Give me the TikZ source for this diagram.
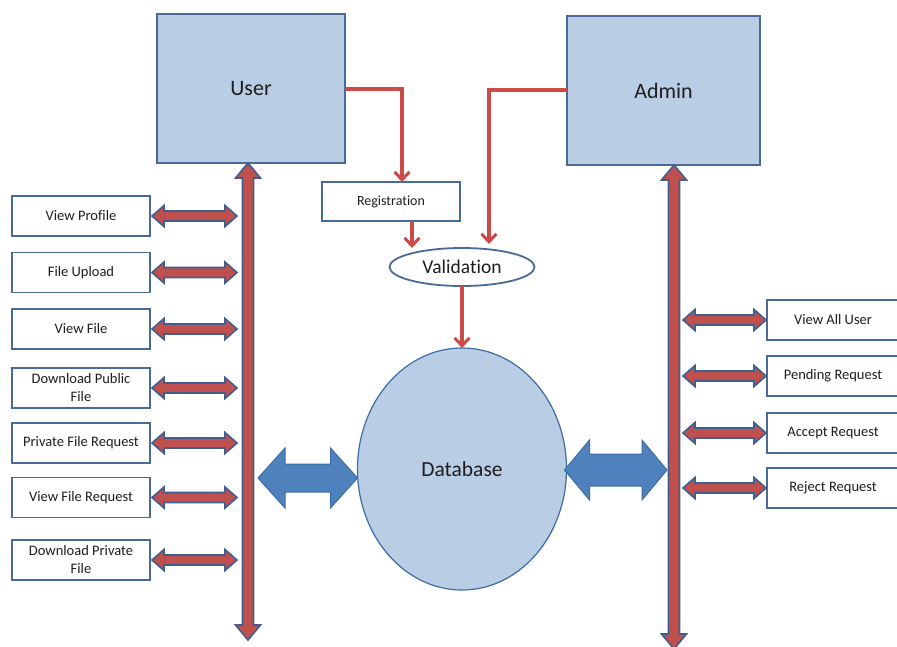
\documentclass[tikz,border=0pt]{standalone}
\usepackage{fontspec}
\setmainfont[Ligatures=NoCommon]{Carlito}
\usetikzlibrary{calc,arrows.meta,shapes.geometric}
\definecolor{boxfill}{HTML}{B9CDE5}
\definecolor{boxline}{HTML}{4A6B96}
\definecolor{redln}{HTML}{CC4A47}
\definecolor{redfill}{HTML}{C0504D}
\definecolor{arrline}{HTML}{3F5F8F}
\definecolor{bluefill}{HTML}{4F81BD}
\definecolor{blueline}{HTML}{3E6CA6}
\definecolor{txt}{HTML}{1E1E1E}
\newcommand\dblarrow[6]{%
  \coordinate (dA) at #2; \coordinate (dB) at #3;
  \coordinate (dA1) at ($(dA)!#6!(dB)$);
  \coordinate (dB1) at ($(dB)!#6!(dA)$);
  \draw[#1] (dA) -- ($(dA1)!#5!90:(dB)$) -- ($(dA1)!#4!90:(dB)$)
    -- ($(dB1)!#4!-90:(dA)$) -- ($(dB1)!#5!-90:(dA)$) -- (dB)
    -- ($(dB1)!#5!90:(dA)$) -- ($(dB1)!#4!90:(dA)$)
    -- ($(dA1)!#4!-90:(dB)$) -- ($(dA1)!#5!-90:(dB)$) -- cycle;}
\tikzset{
  bigbox/.style={draw=boxline, line width=1.8pt, fill=boxfill, inner sep=0pt, outer sep=0pt,
    text=txt, font=\fontsize{22}{26}\selectfont},
  smallbox/.style={draw=boxline, line width=1.8pt, fill=white, inner sep=0pt, outer sep=0pt,
    minimum height=40pt, align=center, text=txt, font=\fontsize{14.5}{18}\selectfont},
  lbox/.style={smallbox, minimum width=138pt},
  rbox/.style={smallbox, minimum width=132pt},
  flow/.style={draw=redln, line width=3.2pt, -{Straight Barb[length=8pt,width=15pt,line width=3pt]}},
  busarrow/.style={draw=arrline, fill=redfill, line width=1.6pt, line join=miter},
  bluearrow/.style={draw=blueline, fill=bluefill, line width=1pt, line join=miter}
}
\begin{document}
\begin{tikzpicture}[x=1pt,y=-1pt]
\useasboundingbox (0,0) rectangle (897,646);
% main boxes
\node[bigbox, minimum width=188pt, minimum height=149pt] (user) at (251,88.5) {User};
\node[bigbox, minimum width=193pt, minimum height=149pt] (admin) at (663.5,90.5) {Admin};
\node[smallbox, minimum width=138pt, minimum height=39pt, font=\fontsize{14}{17}\selectfont] (reg) at (391,201.5) {Registration};
\node[draw=boxline, line width=1.8pt, fill=white, ellipse, minimum width=145pt, minimum height=38pt,
  inner sep=0pt, outer sep=0pt, text=txt, font=\fontsize{19.5}{23}\selectfont] (val) at (462,267) {Validation};
\node[draw=blueline, line width=1.2pt, fill=boxfill, ellipse, minimum width=209pt, minimum height=242pt,
  inner sep=0pt, outer sep=0pt, text=txt, font=\fontsize{21.5}{26}\selectfont] (db) at (462,469) {Database};
% left boxes
\node[lbox] (vp) at (81,216) {View Profile};
\node[lbox] (fu) at (81,272.5) {File Upload};
\node[lbox] (vf) at (81,329) {View File};
\node[lbox] (dpf) at (81,388) {Download Public\\File};
\node[lbox] (pfr) at (81,443) {Private File Request};
\node[lbox] (vfr) at (81,497.5) {View File Request};
\node[lbox] (dpr) at (81,560) {Download Private\\File};
% right boxes
\node[rbox] (vau) at (833,320) {View All User};
\node[rbox] (pr) at (833,376) {Pending Request};
\node[rbox] (ar) at (833,433) {Accept Request};
\node[rbox] (rr) at (833,488) {Reject Request};
% bus coordinates
\coordinate (ltop) at (248,163);
\coordinate (lbot) at (248,640);
\coordinate (rtop) at (674,165);
\coordinate (rbot) at (674,649);
% flow lines
\draw[flow] (user.east |- 0,89) -| (reg.north -| 402,0);
\draw[flow] (reg.south -| 412,0) -- (412,248);
\draw[flow] (admin.west |- 0,90) -| (489,244);
\draw[flow] (val.south) -- (db.north);
% buses
\dblarrow{busarrow}{(ltop)}{(lbot)}{5.5pt}{12.5pt}{15pt}
\dblarrow{busarrow}{(rtop)}{(rbot)}{5.5pt}{12.5pt}{15pt}
% left small arrows
\foreach \n in {vp,fu,vf,dpf,pfr,vfr,dpr}{
  \coordinate (la) at ($(\n.east)+(2,0)$);
  \coordinate (lb) at (\n.east -| 237,0);
  \dblarrow{busarrow}{(la)}{(lb)}{5pt}{10.5pt}{12pt}
}
% right small arrows
\foreach \n in {vau,pr,ar,rr}{
  \coordinate (ra) at (\n.west -| 683,0);
  \coordinate (rb) at ($(\n.west)+(-1,0)$);
  \dblarrow{busarrow}{(ra)}{(rb)}{5pt}{10.5pt}{12pt}
}
% blue arrows
\coordinate (bl) at (258,478);
\dblarrow{bluearrow}{(bl)}{(db.west |- bl)}{14pt}{30pt}{27pt}
\coordinate (br) at (667,470);
\dblarrow{bluearrow}{($(db.east |- br)+(-2,0)$)}{(br)}{16pt}{30pt}{25pt}
\end{tikzpicture}
\end{document}
